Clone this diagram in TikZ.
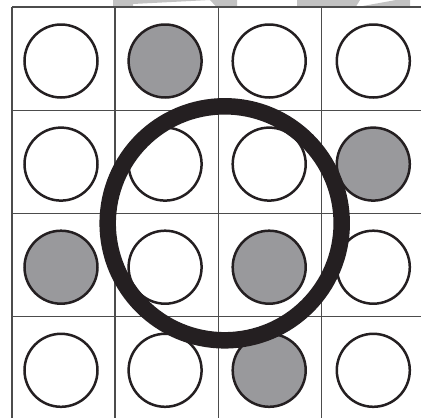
\documentclass[tikz,border=0pt]{standalone}
\definecolor{inkdark}{rgb}{0.14,0.12,0.13}
\definecolor{gridgray}{rgb}{0.3,0.3,0.3}
\definecolor{fillgray}{rgb}{0.6,0.6,0.61}
\definecolor{markgray}{rgb}{0.76,0.76,0.76}
\usetikzlibrary{positioning}

\begin{document}
\begin{tikzpicture}[x=1pt,y=-1pt,node distance=27.6pt and 28.6pt,
    disc/.style={draw=inkdark,circle,line width=2.5pt,minimum size=73pt,inner sep=0pt,fill=white},
    hit/.style={disc,fill=fillgray},
    ring/.style={draw=inkdark,circle,line width=16.5pt,minimum size=234pt,inner sep=0pt},
    gridline/.style={draw=gridgray,line width=1.2pt}]
    \useasboundingbox (0,0) rectangle (421,418);
    % faint marks cut off at the top edge
    \fill[markgray] (113,0)--(113,6.5)--(133,6.5)--(133,4)--(210,0)--cycle;
    \fill[markgray] (210,0)--(237,0)--(237,6.5)--(216,6.5)--cycle;
    \fill[markgray] (297,0)--(360,0)--(356,6.5)--(297,6.5)--cycle;
    \fill[markgray] (360,6.5)--(410,6.5)--(410,0)--(396,0)--cycle;
    % grid
    \draw[gridline] (12,7)--(430,7); \draw[gridline] (12,110.7)--(430,110.7);
    \draw[gridline] (12,213.3)--(430,213.3); \draw[gridline] (12,316.7)--(430,316.7);
    \draw[gridline] (12,7)--(12,430); \draw[gridline] (115,7)--(115,430);
    \draw[gridline] (218.3,7)--(218.3,430); \draw[gridline] (321.7,7)--(321.7,430);
    % row 1
    \node[disc] (a1) at (61,61) {};
    \node[hit,right=of a1] (a2) {};
    \node[disc,right=of a2] (a3) {};
    \node[disc,right=of a3] (a4) {};
    % row 2
    \node[disc,below=of a1] (b1) {};
    \node[disc,right=of b1] (b2) {};
    \node[disc,right=of b2] (b3) {};
    \node[hit,right=of b3] (b4) {};
    % row 3
    \node[hit,below=of b1] (c1) {};
    \node[disc,right=of c1] (c2) {};
    \node[hit,right=of c2] (c3) {};
    \node[disc,right=of c3] (c4) {};
    % row 4
    \node[disc,below=of c1] (d1) {};
    \node[disc,right=of d1] (d2) {};
    \node[hit,right=of d2] (d3) {};
    \node[disc,right=of d3] (d4) {};
    \node[ring] (window) at (224.7,223.3) {};
\end{tikzpicture}
\end{document}
